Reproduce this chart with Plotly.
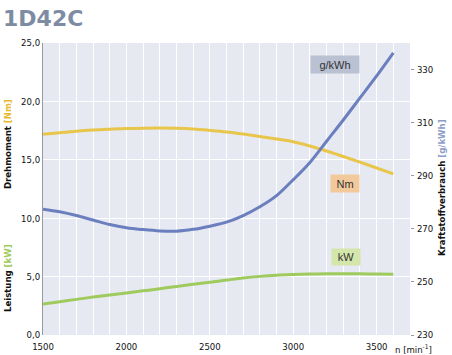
import plotly.graph_objects as go

rpm = [1500, 1600, 1700, 1800, 1900, 2000, 2100, 2200, 2300, 2400, 2500,
       2600, 2700, 2800, 2900, 3000, 3100, 3200, 3300, 3400, 3500, 3600]
torque_nm = [17.18, 17.32, 17.45, 17.55, 17.62, 17.68, 17.71, 17.72, 17.70, 17.64, 17.52,
             17.38, 17.20, 17.00, 16.78, 16.55, 16.18, 15.75, 15.28, 14.80, 14.30, 13.80]
power_kw = [2.65, 2.85, 3.05, 3.25, 3.43, 3.60, 3.78, 3.96, 4.16, 4.34, 4.52,
            4.70, 4.88, 5.02, 5.12, 5.18, 5.22, 5.25, 5.25, 5.24, 5.22, 5.20]
fuel_gkwh = [277.4, 276.4, 275.0, 273.3, 271.6, 270.4, 269.7, 269.2, 269.1, 269.8, 271.0,
             272.5, 275.0, 278.3, 282.5, 288.5, 295.0, 303.0, 311.0, 319.3, 327.6, 336.3]

left_ticks = [0, 5, 10, 15, 20, 25]
left_labels = ["0,0", "5,0", "10,0", "15,0", "20,0", "25,0"]
right_ticks = [230, 250, 270, 290, 310, 330]
x_ticks = [1500, 2000, 2500, 3000, 3500]

C_NM = "#e8c64c"
C_KW = "#9fca5e"
C_G = "#6b7fbf"
FONT = "DejaVu Sans Condensed, Liberation Sans Narrow, Roboto, sans-serif"

W, H = 452, 355
L, R, T, B = 43, 42, 43, 20
pw, ph = W - L - R, H - T - B


def px(x):
    return (x - L) / pw


def py(y):
    return (H - B - y) / ph


fig = go.Figure()
fig.add_trace(go.Scatter(x=rpm, y=torque_nm, mode="lines", line=dict(color=C_NM, width=3, shape="spline"), yaxis="y"))
fig.add_trace(go.Scatter(x=rpm, y=power_kw, mode="lines", line=dict(color=C_KW, width=3, shape="spline"), yaxis="y"))
fig.add_trace(go.Scatter(x=rpm, y=fuel_gkwh, mode="lines", line=dict(color=C_G, width=3, shape="spline"), yaxis="y2"))

ann = [
    dict(text="<b>1D42C</b>", x=px(1), y=py(4), xanchor="left", yanchor="top",
         font=dict(size=22, color="#7d8ca3", family="DejaVu Sans"), showarrow=False),
    dict(text="<b>Drehmoment <span style='color:#e7b92e'>[Nm]</span></b>", x=px(7), y=py(144),
         textangle=-90, font=dict(size=9.5, color="#111", family=FONT), showarrow=False),
    dict(text="<b>Leistung <span style='color:#9fca5e'>[kW]</span></b>", x=px(7), y=py(278),
         textangle=-90, font=dict(size=9.5, color="#111", family=FONT), showarrow=False),
    dict(text="<b>Kraftstoffverbrauch <span style='color:#8d9bc7'>[g/kWh]</span></b>", x=px(441), y=py(188),
         textangle=-90, font=dict(size=9.5, color="#111", family=FONT), showarrow=False),
    dict(text="n [min<sup>-1</sup>]", x=px(393), y=py(349), xanchor="left",
         font=dict(size=9.5, color="#111", family=FONT), showarrow=False),
    dict(text="g/kWh", x=px(335), y=py(64.5), bgcolor="#b9c1d3",
         font=dict(size=11, color="#333", family="Liberation Sans"), showarrow=False, width=46, height=15),
    dict(text="Nm", x=px(345), y=py(183), bgcolor="#f2c99b",
         font=dict(size=11, color="#333", family="Liberation Sans"), showarrow=False, width=26, height=15),
    dict(text="kW", x=px(345.5), y=py(256.5), bgcolor="#d5e6ab",
         font=dict(size=11, color="#333", family="Liberation Sans"), showarrow=False, width=26, height=14),
]
for a in ann:
    a.update(xref="paper", yref="paper")
    a.setdefault("xanchor", "center")
    a.setdefault("yanchor", "middle")

fig.update_layout(
    width=W, height=H,
    margin=dict(l=L, r=R, t=T, b=B, autoexpand=False),
    paper_bgcolor="white",
    plot_bgcolor="#e6e9f1",
    showlegend=False,
    annotations=ann,
    xaxis=dict(range=[1500, 3700], tickvals=x_ticks, showgrid=True, gridcolor="white", gridwidth=1,
               minor=dict(dtick=100, tick0=1500, showgrid=True, gridcolor="white", gridwidth=1),
               zeroline=False, showline=False, ticks="", automargin=False, ticklabelstandoff=4,
               tickfont=dict(size=9.5, color="#111", family=FONT)),
    yaxis=dict(range=[0, 25], tickvals=left_ticks, ticktext=left_labels, showgrid=True,
               gridcolor="white", gridwidth=1, zeroline=False, showline=True, linecolor="#9a9a9a",
               linewidth=1, ticks="", automargin=False,
               tickfont=dict(size=9.5, color="#111", family=FONT)),
    yaxis2=dict(range=[230, 340], tickvals=right_ticks, overlaying="y", side="right", showgrid=False,
                zeroline=False, showline=False, ticks="outside", ticklen=3, tickcolor="#999",
                automargin=False, ticklabelstandoff=1,
                tickfont=dict(size=9.5, color="#111", family=FONT)),
)

fig.write_html("out.html", config={"displayModeBar": False},
               post_script="document.body.style.margin='0';document.body.style.padding='0';document.body.style.overflow='hidden';")
